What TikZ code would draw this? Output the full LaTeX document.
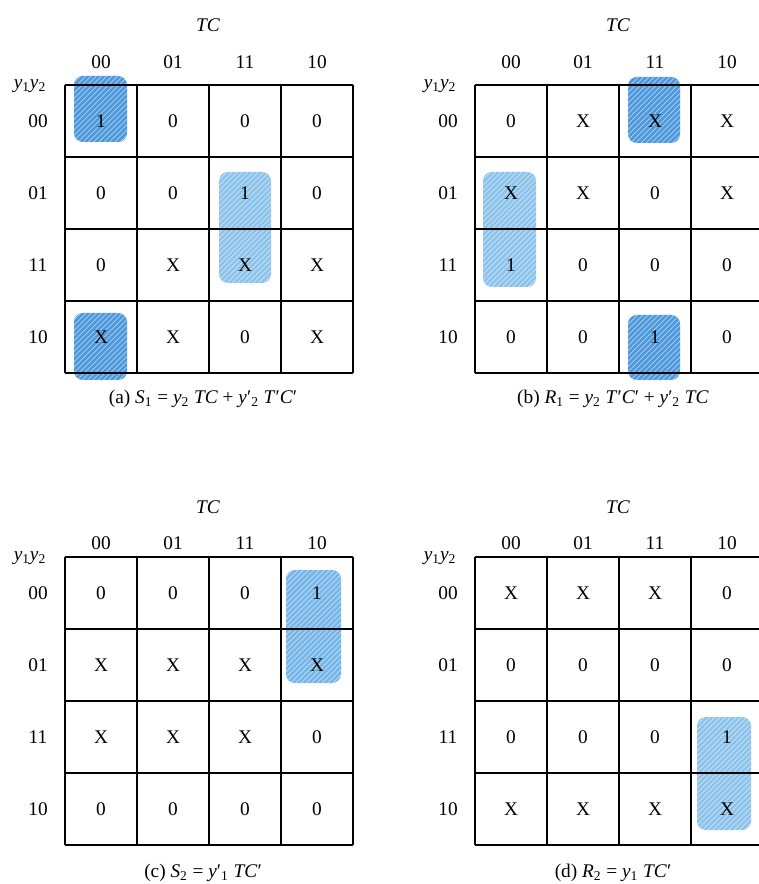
\documentclass[tikz,border=0pt]{standalone}
\usepackage{fontspec}
\setmainfont{Liberation Serif}
\usetikzlibrary{patterns}
\definecolor{loopdark}{RGB}{78,152,222}
\definecolor{loopmid}{RGB}{118,182,234}
\definecolor{looplight}{RGB}{140,195,236}

\begin{document}
\begin{tikzpicture}[
  x=0.02cm, y=-0.02cm,
  font=\fontsize{11}{13}\selectfont,
  gridline/.style = {line width=1.2pt},
  maptitle/.style = {font=\fontsize{11}{13}\selectfont\itshape},
  loopbox/.style = {fill=#1, rounded corners=5pt,
    postaction={pattern=north east lines, pattern color=white!55!#1}},
]
\useasboundingbox (0,0) rectangle (759,884);

% (a) S1
\begin{scope}[shift={(65,85)}]
  \path[loopbox=loopdark] (9,-9) rectangle (62,57);
  \path[loopbox=loopdark] (9,228) rectangle (62,295);
  \path[loopbox=looplight] (154,87) rectangle (206,198);
  \foreach \k in {0,...,4} {
    \draw[gridline] (72*\k,0) -- (72*\k,288);
    \draw[gridline] (0,72*\k) -- (288,72*\k);
  }
  \node[maptitle] (a-tc) at (143,-60) {TC};
  \node (a-yy) at (-35,1) {\textit{y}\textsubscript{1}\textit{y}\textsubscript{2}};
  \foreach \lbl [count=\k from 0] in {00,01,11,10} {
    \node (a-col\k) at (36+72*\k,-23) {\lbl};
    \node (a-row\k) at (-27,36+72*\k) {\lbl};
  }
  \foreach \vals [count=\r from 0] in {{1,0,0,0},{0,0,1,0},{0,X,X,X},{X,X,0,X}} {
    \foreach \v [count=\c from 0] in \vals
      \node (a-\r\c) at (36+72*\c,36+72*\r) {\v};
  }
  \node (a-cap) at (138,314) {(a) \textit{S}\textsubscript{1} = \textit{y}\textsubscript{2} \textit{TC} + \textit{y}′\textsubscript{2} \textit{T}′\textit{C}′};
\end{scope}

% (b) R1
\begin{scope}[shift={(475,85)}]
  \path[loopbox=loopdark] (153,-8) rectangle (205,58);
  \path[loopbox=loopdark] (153,230) rectangle (205,295);
  \path[loopbox=looplight] (8,87) rectangle (61,202);
  \foreach \k in {0,...,4} {
    \draw[gridline] (72*\k,0) -- (72*\k,288);
    \draw[gridline] (0,72*\k) -- (288,72*\k);
  }
  \node[maptitle] (b-tc) at (143,-60) {TC};
  \node (b-yy) at (-35,1) {\textit{y}\textsubscript{1}\textit{y}\textsubscript{2}};
  \foreach \lbl [count=\k from 0] in {00,01,11,10} {
    \node (b-col\k) at (36+72*\k,-23) {\lbl};
    \node (b-row\k) at (-27,36+72*\k) {\lbl};
  }
  \foreach \vals [count=\r from 0] in {{0,X,X,X},{X,X,0,X},{1,0,0,0},{0,0,1,0}} {
    \foreach \v [count=\c from 0] in \vals
      \node (b-\r\c) at (36+72*\c,36+72*\r) {\v};
  }
  \node (b-cap) at (138,314) {(b) \textit{R}\textsubscript{1} = \textit{y}\textsubscript{2} \textit{T}′\textit{C}′ + \textit{y}′\textsubscript{2} \textit{TC}};
\end{scope}

% (c) S2
\begin{scope}[shift={(65,557)}]
  \path[loopbox=loopmid] (221,13) rectangle (276,126);
  \foreach \k in {0,...,4} {
    \draw[gridline] (72*\k,0) -- (72*\k,288);
    \draw[gridline] (0,72*\k) -- (288,72*\k);
  }
  \node[maptitle] (c-tc) at (143,-50) {TC};
  \node (c-yy) at (-35,1) {\textit{y}\textsubscript{1}\textit{y}\textsubscript{2}};
  \foreach \lbl [count=\k from 0] in {00,01,11,10} {
    \node (c-col\k) at (36+72*\k,-14) {\lbl};
    \node (c-row\k) at (-27,36+72*\k) {\lbl};
  }
  \foreach \vals [count=\r from 0] in {{0,0,0,1},{X,X,X,X},{X,X,X,0},{0,0,0,0}} {
    \foreach \v [count=\c from 0] in \vals
      \node (c-\r\c) at (36+72*\c,36+72*\r) {\v};
  }
  \node (c-cap) at (138,316) {(c) \textit{S}\textsubscript{2} = \textit{y}′\textsubscript{1} \textit{TC}′};
\end{scope}

% (d) R2
\begin{scope}[shift={(475,557)}]
  \path[loopbox=looplight] (222,160) rectangle (276,273);
  \foreach \k in {0,...,4} {
    \draw[gridline] (72*\k,0) -- (72*\k,288);
    \draw[gridline] (0,72*\k) -- (288,72*\k);
  }
  \node[maptitle] (d-tc) at (143,-50) {TC};
  \node (d-yy) at (-35,1) {\textit{y}\textsubscript{1}\textit{y}\textsubscript{2}};
  \foreach \lbl [count=\k from 0] in {00,01,11,10} {
    \node (d-col\k) at (36+72*\k,-14) {\lbl};
    \node (d-row\k) at (-27,36+72*\k) {\lbl};
  }
  \foreach \vals [count=\r from 0] in {{X,X,X,0},{0,0,0,0},{0,0,0,1},{X,X,X,X}} {
    \foreach \v [count=\c from 0] in \vals
      \node (d-\r\c) at (36+72*\c,36+72*\r) {\v};
  }
  \node (d-cap) at (138,316) {(d) \textit{R}\textsubscript{2} = \textit{y}\textsubscript{1} \textit{TC}′};
\end{scope}
\end{tikzpicture}
\end{document}
